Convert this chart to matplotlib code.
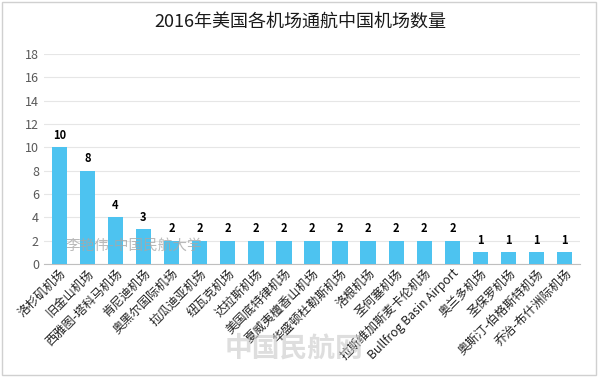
import matplotlib
matplotlib.use("Agg")
import matplotlib.pyplot as plt

plt.rcParams['font.family'] = ['Noto Sans CJK SC', 'DejaVu Sans']

airports = ["洛杉矶机场", "旧金山机场", "西雅图-塔科马机场", "肯尼迪机场", "奥黑尔国际机场",
            "拉瓜迪亚机场", "纽瓦克机场", "达拉斯机场", "美国底特律机场", "夏威夷檀香山机场",
            "华盛顿杜勒斯机场", "洛根机场", "圣何塞机场", "拉斯维加斯麦卡伦机场",
            "Bullfrog Basin Airport", "奥兰多机场", "圣保罗机场", "奥斯汀-伯格斯特机场",
            "乔治-布什洲际机场"]
counts = [10, 8, 4, 3, 2, 2, 2, 2, 2, 2, 2, 2, 2, 2, 2, 1, 1, 1, 1]
yticks = [0, 2, 4, 6, 8, 10, 12, 14, 16, 18]
title = "2016年美国各机场通航中国机场数量"

fig = plt.figure(figsize=(6, 3.77), dpi=100)
fig.patch.set_facecolor('white')
ax = fig.add_axes([0.073, 0.30, 0.894, 0.557])

x = range(len(airports))
ax.bar(x, counts, width=0.55, color='#4DC3F0', zorder=3)
for xi, v in zip(x, counts):
    ax.text(xi, v + 0.45, str(v), ha='center', va='bottom', fontsize=8,
            fontweight='bold', color='black', zorder=4)

ax.set_ylim(0, 18)
ax.set_xlim(-0.55, len(airports) - 0.45)
ax.set_yticks(yticks)
ax.yaxis.grid(True, color='#E6E6E6', linewidth=0.8, zorder=0)
ax.tick_params(axis='y', length=0, colors='#595959', labelsize=9)
ax.tick_params(axis='x', length=0, pad=2)
for s in ['top', 'right', 'left']:
    ax.spines[s].set_visible(False)
ax.spines['bottom'].set_color('#BFBFBF')

ax.set_xticks(list(x))
ax.set_xticklabels(airports, rotation=45, ha='right', rotation_mode='anchor',
                   fontsize=8.8, color='#222222')

fig.text(0.5, 0.942, title, ha='center', va='center', fontsize=13, color='#1a1a1a')

# watermarks
fig.text(0.11, 0.338, "李艳伟-中国民航大学", fontsize=10.5, color='#A8A8A8', alpha=0.8, zorder=10)
fig.text(0.375, 0.055, "中国民航网", fontsize=20, color='#C8C8C8', alpha=0.6,
         fontweight='bold', zorder=10)

# figure border
fig.add_artist(plt.Rectangle((0.004, 0.006), 0.99, 0.988, transform=fig.transFigure,
                             fill=False, edgecolor='#D0D0D0', linewidth=1))

fig.savefig('out.png', dpi=100)
